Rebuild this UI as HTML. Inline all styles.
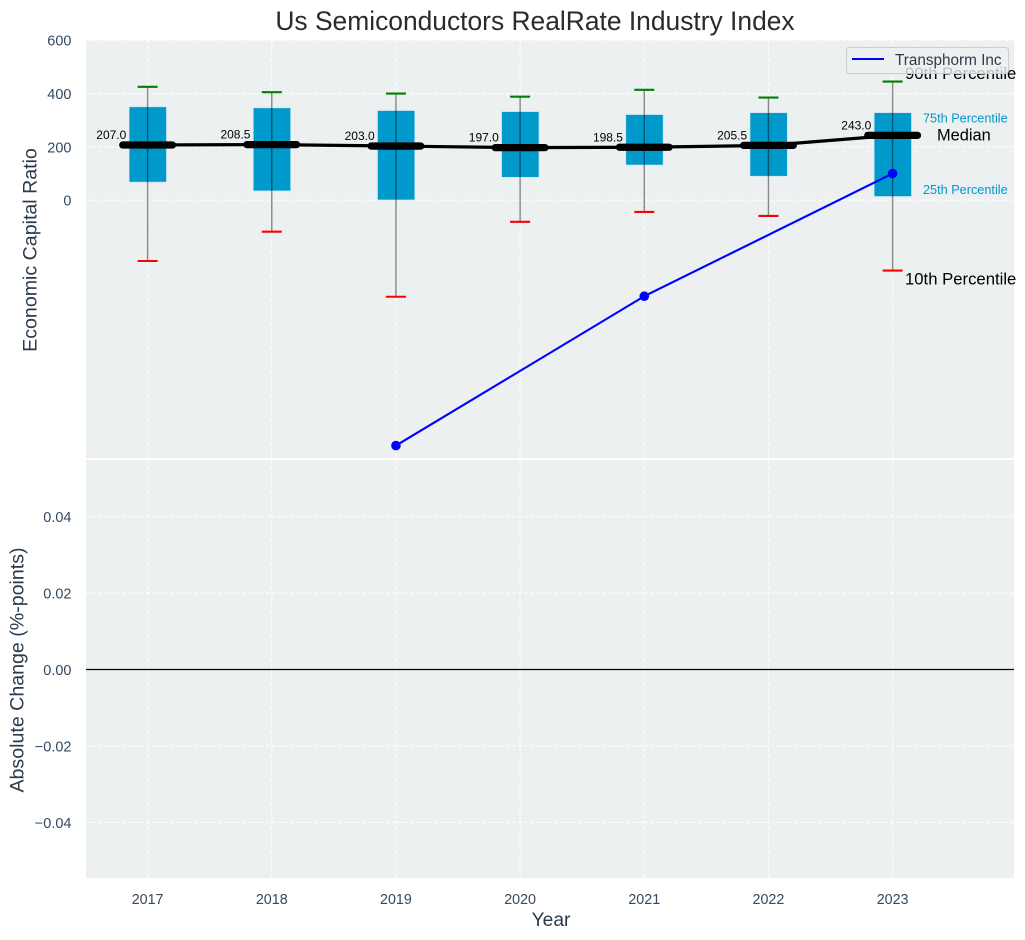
<!DOCTYPE html>
<html lang="en">
<head>
<meta charset="utf-8">
<title>Us Semiconductors RealRate Industry Index</title>
<style>
html,body{margin:0;padding:0;background:#fff;width:1025px;height:940px;overflow:hidden}
svg{display:block;font-family:"Liberation Sans",Arial,sans-serif}
</style>
</head>
<body>
<svg id="chart" xmlns="http://www.w3.org/2000/svg" width="1025" height="940" viewBox="0 0 1025 940"></svg>
<script>
const years = [2017, 2018, 2019, 2020, 2021, 2022, 2023];
const p90 = [425, 405, 400, 388, 414, 385, 445];
const q3 = [350, 346, 336, 332, 321, 328, 328];
const medians = [207.0, 208.5, 203.0, 197.0, 198.5, 205.5, 243.0];
const q1 = [68, 35, 1, 86, 132, 90, 14];
const p10 = [-228, -118, -362, -81, -44, -59, -264];
const companyYears = [2019, 2021, 2023];
const companyValues = [-920, -360, 100];
const topTicks = [0, 200, 400, 600];
const bottomTicks = [0.04, 0.02, 0, -0.02, -0.04];
const bottomTickLabels = ['0.04', '0.02', '0.00', '\u22120.02', '\u22120.04'];

const NS = 'http://www.w3.org/2000/svg';
const svg = document.getElementById('chart');
const PL = 86, PR = 1014;
const TT = 40, TB = 458, BT = 460, BB = 878;
const X = v => 147.6 + (v - 2017) * 124.17;
const W = u => u * 124.17;
const Y1 = v => 200.2 - v * 0.2667;
const Y2 = v => 669.5 - v * 3822;

function mk(tag, attrs, txt) {
  const el = document.createElementNS(NS, tag);
  for (const k in attrs) el.setAttribute(k, attrs[k]);
  if (txt !== undefined) el.textContent = txt;
  svg.appendChild(el);
  return el;
}
function tx(x, y, s, size, fill, anchor) {
  return mk('text', {x: x, y: y, 'font-size': size, fill: fill, 'text-anchor': anchor || 'start'}, s);
}
let el;

el = mk('rect', {x: PL, y: TT, width: PR - PL, height: TB - TT, fill: '#ecf0f1'});


el = mk('rect', {x: PL, y: BT, width: PR - PL, height: BB - BT, fill: '#ecf0f1'});



const grid = {stroke: '#fff', 'stroke-width': 1.1, 'stroke-dasharray': '4 2', opacity: 0.9};
years.forEach(yr => {
  el = mk('line', {x1: X(yr), x2: X(yr), y1: TT, y2: TB, ...grid});
  
  
  el = mk('line', {x1: X(yr), x2: X(yr), y1: BT, y2: BB, ...grid});
  
  
  el = tx(X(yr), 904, String(yr), 14.3, '#34495e', 'middle');
  
  
});
topTicks.forEach(t => {
  el = mk('line', {x1: PL, x2: PR, y1: Y1(t), y2: Y1(t), ...grid});
  
  
  el = tx(71.5, Y1(t) + 5.5, String(t), 14.5, '#34495e', 'end');
  
  
});
bottomTicks.forEach((t, i) => {
  el = mk('line', {x1: PL, x2: PR, y1: Y2(t), y2: Y2(t), ...grid});
  
  
  el = tx(71.5, Y2(t) + 5.5, bottomTickLabels[i], 14.5, '#34495e', 'end');
  
  
});

el = mk('line', {x1: PL, x2: PR, y1: Y2(0), y2: Y2(0), stroke: '#000', 'stroke-width': 1.3});



years.forEach((yr, i) => {
  el = mk('rect', {x: X(yr) - W(0.15) + 0.2, y: Y1(q3[i]), width: W(0.3), height: Y1(q1[i]) - Y1(q3[i]), fill: '#0099cc', stroke: '#bfe3ef', 'stroke-width': 0.6});
  
  
});

el = mk('polyline', {points: years.map((yr, i) => X(yr) + ',' + Y1(medians[i])).join(' '), fill: 'none', stroke: '#000', 'stroke-width': 3.2});



years.forEach((yr, i) => {
  el = mk('line', {x1: X(yr), x2: X(yr), y1: Y1(p90[i]), y2: Y1(p10[i]), stroke: '#000', 'stroke-opacity': 0.45, 'stroke-width': 1.4});
  
  
  el = mk('line', {x1: X(yr) - 10, x2: X(yr) + 10, y1: Y1(p90[i]), y2: Y1(p90[i]), stroke: '#008000', 'stroke-width': 2.1});
  
  
  el = mk('line', {x1: X(yr) - 10, x2: X(yr) + 10, y1: Y1(p10[i]), y2: Y1(p10[i]), stroke: '#ff0000', 'stroke-width': 2.1});
  
  
  el = mk('line', {x1: X(yr) - W(0.2), x2: X(yr) + W(0.2), y1: Y1(medians[i]), y2: Y1(medians[i]), stroke: '#000', 'stroke-width': 7.3, 'stroke-linecap': 'round'});
  
  
  el = tx(X(yr) - 21.3, Y1(medians[i]) - 6, medians[i].toFixed(1), 12, '#000', 'end');
  
  
});

el = mk('polyline', {points: companyYears.map((yr, i) => X(yr) + ',' + Y1(companyValues[i])).join(' '), fill: 'none', stroke: '#0000ff', 'stroke-width': 2.1});


companyYears.forEach((yr, i) => {
  el = mk('circle', {cx: X(yr), cy: Y1(companyValues[i]), r: 4.8, fill: '#0000ff'});
  
  
});

el = tx(905, 79, '90th Percentile', 16.7, '#000');


el = tx(905, 284.5, '10th Percentile', 16.7, '#000');


el = tx(937, 140.5, 'Median', 16.4, '#000');


el = tx(923, 122.5, '75th Percentile', 12.7, '#0099cc');


el = tx(923, 194, '25th Percentile', 12.7, '#0099cc');



el = mk('rect', {x: 846.5, y: 47.5, width: 162, height: 26, rx: 3, fill: '#ecf0f1', 'fill-opacity': 0.8, stroke: '#cccccc', 'stroke-width': 1});


el = mk('line', {x1: 852, x2: 884, y1: 59, y2: 59, stroke: '#0000ff', 'stroke-width': 2});


el = tx(895, 65, 'Transphorm Inc', 15.3, '#2f3b47');



el = tx(535, 30, 'Us Semiconductors RealRate Industry Index', 26.4, '#2b2b2b', 'middle');


el = tx(551, 926, 'Year', 19.2, '#2b3a4a', 'middle');


el = tx(0, 0, 'Economic Capital Ratio', 19.6, '#2b3a4a', 'middle');
el.setAttribute('transform', 'translate(36.5,250) rotate(-90)');


el = tx(0, 0, 'Absolute Change (%-points)', 19.6, '#2b3a4a', 'middle');
el.setAttribute('transform', 'translate(23.5,670) rotate(-90)');


</script>
</body>
</html>
